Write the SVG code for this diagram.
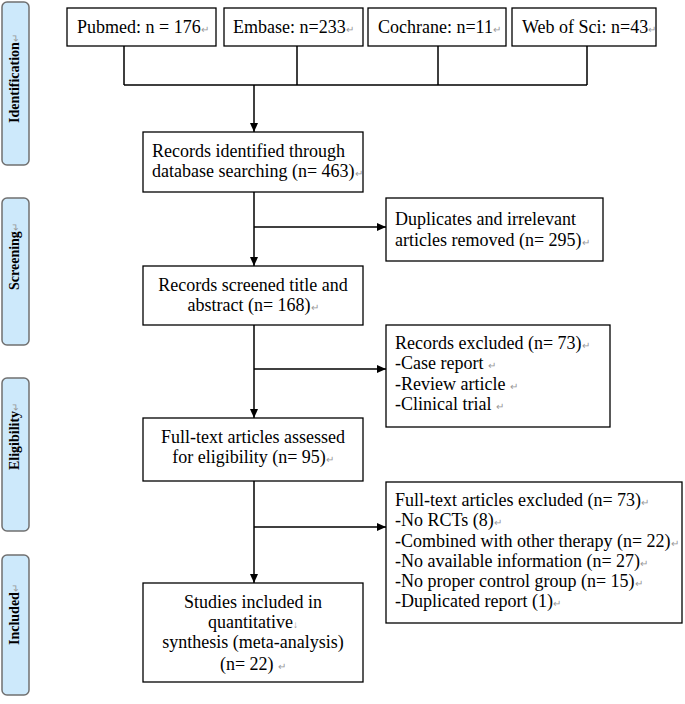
<svg xmlns="http://www.w3.org/2000/svg" width="685" height="704" viewBox="0 0 685 704">
<style>
.side rect{fill:#cde9fb;stroke:#707070;stroke-width:1.5}
.side text{font-family:"Liberation Serif","Times New Roman",serif;font-weight:bold;font-size:14px;fill:#000}
.box rect{fill:#fff;stroke:#000;stroke-width:1.3}
.box text{font-family:"Liberation Serif","Times New Roman",serif;font-size:18px;fill:#000}
.box text.c{text-anchor:middle}
.pm{fill:#999;font-size:10px;font-weight:normal}
.conn path{fill:none;stroke:#000;stroke-width:1.5}
</style>
<defs>
<marker id="ah" markerUnits="userSpaceOnUse" markerWidth="9" markerHeight="8" refX="9" refY="4" orient="auto">
<path d="M0,0 L9,4 L0,8 z" fill="#000"/>
</marker>
</defs>

<g id="side-identification" class="side"><rect x="2" y="2" width="27" height="163" rx="5"/><text transform="translate(19,123) rotate(-90)">Identification<tspan class="pm">↵</tspan></text></g>
<g id="side-screening" class="side"><rect x="2" y="198" width="27" height="147" rx="5"/><text transform="translate(19,290) rotate(-90)">Screening<tspan class="pm">↵</tspan></text></g>
<g id="side-eligibility" class="side"><rect x="2" y="378" width="27" height="153" rx="5"/><text transform="translate(19,470) rotate(-90)">Eligibility<tspan class="pm">↵</tspan></text></g>
<g id="side-included" class="side"><rect x="2" y="555" width="27" height="140" rx="5"/><text transform="translate(19,645) rotate(-90)">Included<tspan class="pm">↵</tspan></text></g>

<g id="conn" class="conn">
<path d="M124,46 V85 M297,46 V85 M438,46 V85 M587,46 V85 M124,85 H587"/>
<path d="M254,85 V132" marker-end="url(#ah)"/>
<path d="M254,192 V266" marker-end="url(#ah)"/>
<path d="M254,227 H386" marker-end="url(#ah)"/>
<path d="M254,325 V418" marker-end="url(#ah)"/>
<path d="M254,369 H386" marker-end="url(#ah)"/>
<path d="M254,481 V583" marker-end="url(#ah)"/>
<path d="M254,527 H386" marker-end="url(#ah)"/>
</g>

<g id="pubmed" class="box"><rect x="67" y="8" width="149" height="38"/><text x="77" y="33">Pubmed: n = 176<tspan class="pm">↵</tspan></text></g>
<g id="embase" class="box"><rect x="224" y="8" width="139" height="38"/><text x="233" y="33">Embase: n=233<tspan class="pm">↵</tspan></text></g>
<g id="cochrane" class="box"><rect x="368" y="8" width="138" height="38"/><text x="378" y="33">Cochrane: n=11<tspan class="pm">↵</tspan></text></g>
<g id="webofsci" class="box"><rect x="512" y="8" width="144" height="38"/><text x="522" y="33">Web of Sci: n=43<tspan class="pm">↵</tspan></text></g>

<g id="identified" class="box"><rect x="143" y="132" width="220" height="60"/>
<text x="152" y="157">Records identified through</text>
<text x="152" y="177">database searching (n= 463)<tspan class="pm">↵</tspan></text></g>

<g id="duplicates" class="box"><rect x="386" y="198" width="217" height="63"/>
<text x="395" y="225">Duplicates and irrelevant</text>
<text x="395" y="246">articles removed (n= 295)<tspan class="pm">↵</tspan></text></g>

<g id="screened" class="box"><rect x="143" y="266" width="220" height="59"/>
<text class="c" x="253" y="291">Records screened title and</text>
<text class="c" x="253" y="311">abstract (n= 168)<tspan class="pm">↵</tspan></text></g>

<g id="excluded" class="box"><rect x="386" y="325" width="224" height="102"/>
<text x="395" y="349">Records excluded (n= 73)<tspan class="pm">↵</tspan></text>
<text x="395" y="369">-Case report <tspan class="pm">↵</tspan></text>
<text x="395" y="390">-Review article <tspan class="pm">↵</tspan></text>
<text x="395" y="410">-Clinical trial <tspan class="pm">↵</tspan></text></g>

<g id="fulltext" class="box"><rect x="143" y="418" width="220" height="63"/>
<text class="c" x="253" y="443">Full-text articles assessed</text>
<text class="c" x="253" y="463">for eligibility (n= 95)<tspan class="pm">↵</tspan></text></g>

<g id="ftexcluded" class="box"><rect x="386" y="482" width="296" height="141"/>
<text x="395" y="506">Full-text articles excluded (n= 73)<tspan class="pm">↵</tspan></text>
<text x="395" y="526">-No RCTs (8)<tspan class="pm">↵</tspan></text>
<text x="395" y="547">-Combined with other therapy (n= 22)<tspan class="pm">↵</tspan></text>
<text x="395" y="567">-No available information (n= 27)<tspan class="pm">↵</tspan></text>
<text x="395" y="587">-No proper control group (n= 15)<tspan class="pm">↵</tspan></text>
<text x="395" y="607">-Duplicated report (1)<tspan class="pm">↵</tspan></text></g>

<g id="included" class="box"><rect x="143" y="583" width="220" height="99"/>
<text class="c" x="253" y="608">Studies included in</text>
<text class="c" x="253" y="628">quantitative<tspan class="pm">↓</tspan></text>
<text class="c" x="253" y="648">synthesis (meta-analysis)</text>
<text class="c" x="253" y="670">(n= 22) <tspan class="pm">↵</tspan></text></g>
</svg>
